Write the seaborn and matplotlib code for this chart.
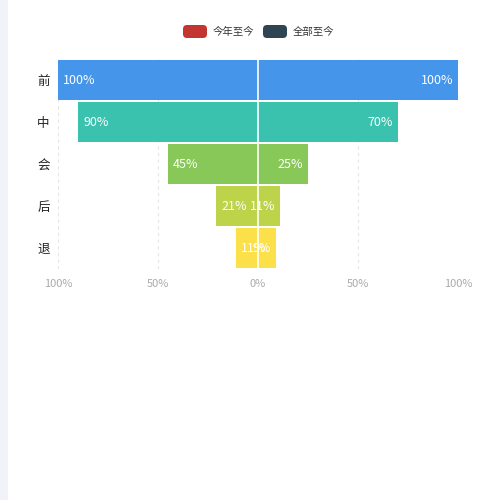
import matplotlib
matplotlib.use("Agg")
import matplotlib.pyplot as plt
import seaborn as sns
import pandas as pd
from matplotlib.patches import FancyBboxPatch, Rectangle

categories = ["前", "中", "会", "后", "退"]
this_year = [100, 90, 45, 21, 11]
all_time = [100, 70, 25, 11, 9]
row_colors = ["#4596EA", "#3AC2AE", "#88C859", "#BDD34A", "#FCE04A"]
legend_labels = ["今年至今", "全部至今"]
legend_colors = ["#C23531", "#2F4554"]
tick_vals = [-100, -50, 0, 50, 100]
tick_labels = ["100%", "50%", "0%", "50%", "100%"]

sns.set_theme(style="white")
plt.rcParams['font.family'] = ['Noto Sans CJK SC', 'DejaVu Sans']

fig = plt.figure(figsize=(5, 5), dpi=100)
fig.patch.set_facecolor("white")
fig.patches.append(Rectangle((0, 0), 8 / 500, 1, transform=fig.transFigure,
                             facecolor="#F2F3F8", edgecolor="none", zorder=0))

ax = fig.add_axes([58 / 500, 1 - 269 / 500, 400 / 500, 210 / 500])

left_df = pd.DataFrame({"cat": categories, "val": [-v for v in this_year]})
right_df = pd.DataFrame({"cat": categories, "val": all_time})
pal = dict(zip(categories, row_colors))
sns.barplot(data=left_df, x="val", y="cat", hue="cat", palette=pal, orient="h",
            width=0.93, legend=False, ax=ax, saturation=1, zorder=2, linewidth=0)
sns.barplot(data=right_df, x="val", y="cat", hue="cat", palette=pal, orient="h",
            width=0.93, legend=False, ax=ax, saturation=1, zorder=2, linewidth=0)

ax.set_xlim(-100, 100)
ax.set_ylim(4.5, -0.5)
for x in [-100, -50, 50, 100]:
    ax.axvline(x, color="#E6E6E6", lw=0.8, ls=(0, (3, 3)), zorder=1)
ax.axvline(0, color="white", lw=1.2, zorder=3)

for i, (l, r) in enumerate(zip(this_year, all_time)):
    ax.annotate(f"{l}%", xy=(-l, i), xytext=(5, 0), textcoords="offset pixels",
                ha="left", va="center", color="white", fontsize=9, zorder=4,
                fontweight="medium")
    ax.annotate(f"{r}%", xy=(r, i), xytext=(-5, 0), textcoords="offset pixels",
                ha="right", va="center", color="white", fontsize=9, zorder=4,
                fontweight="medium")

ax.set_xticks(tick_vals)
ax.set_xticklabels(tick_labels, color="#AAAAAA", fontsize=8)
ax.tick_params(axis="x", length=0, pad=7)
ax.tick_params(axis="y", length=0, pad=6, labelsize=9, labelcolor="#222222")
ax.set_xlabel("")
ax.set_ylabel("")
for s in ax.spines.values():
    s.set_visible(False)

# legend
for k, (lab, col) in enumerate(zip(legend_labels, legend_colors)):
    x0 = (183 + 80 * k) / 500
    fig.patches.append(FancyBboxPatch((x0, 1 - 38 / 500), 24 / 500, 13 / 500,
                                      boxstyle="round,pad=0,rounding_size=0.008",
                                      transform=fig.transFigure, facecolor=col,
                                      edgecolor="none"))
    fig.text(x0 + 30 / 500, 1 - 31.5 / 500, lab, fontsize=7.5, color="#333333",
             ha="left", va="center")

fig.savefig("out.png", dpi=100)
